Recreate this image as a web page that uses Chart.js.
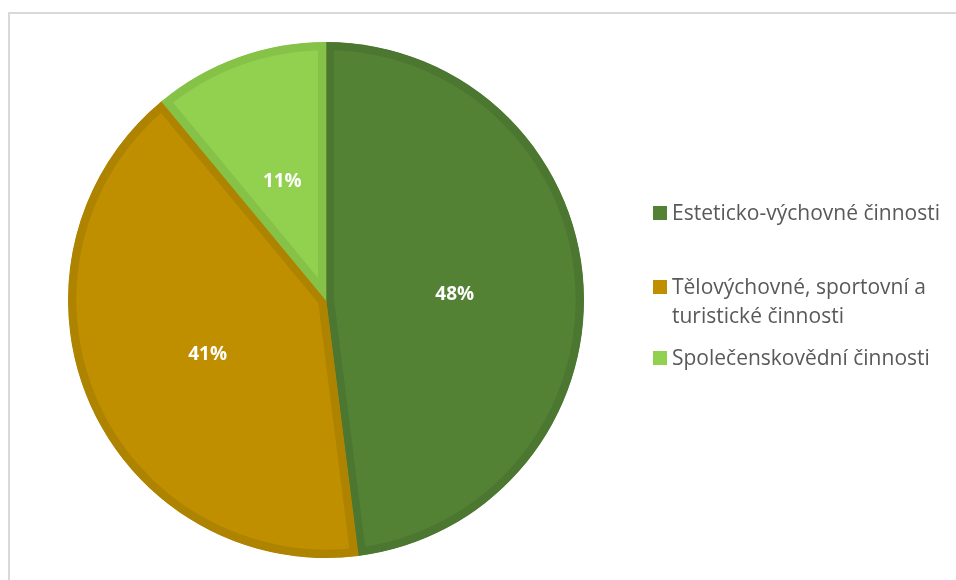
<!DOCTYPE html>
<html>
<head>
  <title>Činnosti</title>
  <script src="https://cdn.jsdelivr.net/npm/chart.js"></script>
  <style>
    body { margin: 0; background: #fff; font-family: "Open Sans", sans-serif; }
    #wrap { position: relative; width: 956px; height: 580px; overflow: hidden; }
    #frame { position: absolute; left: 8px; top: 12px; width: 1000px; height: 700px;
             border-top: 2px solid #d9d9d9; border-left: 2px solid #d9d9d9; }
    canvas { position: absolute; left: 0; top: 0; }
    #legend { position: absolute; left: 653px; top: 0; color: #595959; font-size: 21px; }
    .item { position: absolute; left: 0; white-space: nowrap; line-height: 29px; }
    .box { position: absolute; left: 0; top: 8px; width: 14px; height: 14px; }
    .txt { position: absolute; left: 19px; top: 0; }
  </style>
</head>
<body>
  <div id="wrap">
    <div id="frame"></div>
    <canvas id="pieChart" width="956" height="580"></canvas>
    <div id="legend"></div>
  </div>

  <script>
    const labels = [
      ["Esteticko-výchovné činnosti"],
      ["Tělovýchovné, sportovní a", "turistické činnosti"],
      ["Společenskovědní činnosti"]
    ];
    const values = [48, 41, 11];
    const colors = ["#548235", "#bf8f00", "#92d050"];
    const borders = ["#4c7730", "#ae8300", "#86c248"];
    const legendTops = [198, 272, 343];

    // percent labels inside slices
    const sliceLabels = {
      id: "sliceLabels",
      afterDatasetsDraw(chart) {
        const ctx = chart.ctx;
        const total = values.reduce((a, b) => a + b, 0);
        ctx.save();
        ctx.fillStyle = "#ffffff";
        ctx.font = "bold 19px 'Open Sans', sans-serif";
        ctx.textAlign = "center";
        ctx.textBaseline = "middle";
        chart.getDatasetMeta(0).data.forEach((arc, i) => {
          const p = arc.tooltipPosition();
          ctx.fillText(Math.round(values[i] / total * 100) + "%", p.x, p.y + 3);
        });
        ctx.restore();
      }
    };

    new Chart(document.getElementById("pieChart"), {
      type: "pie",
      data: {
        labels: labels.map(l => l.join(" ")),
        datasets: [{
          data: values,
          backgroundColor: colors,
          borderColor: borders,
          borderWidth: 8,
          borderAlign: "inner"
        }]
      },
      options: {
        responsive: false,
        animation: false,
        layout: { padding: { left: 68, right: 372, top: 42, bottom: 22 } },
        plugins: {
          legend: { display: false },
          tooltip: { enabled: false }
        }
      },
      plugins: [sliceLabels]
    });

    const legend = document.getElementById("legend");
    labels.forEach((lines, i) => {
      const item = document.createElement("div");
      item.className = "item";
      item.style.top = legendTops[i] + "px";
      item.innerHTML = '<div class="box" style="background:' + colors[i] + '"></div>' +
        '<div class="txt">' + lines.join("<br>") + '</div>';
      legend.appendChild(item);
    });
  </script>
</body>
</html>
